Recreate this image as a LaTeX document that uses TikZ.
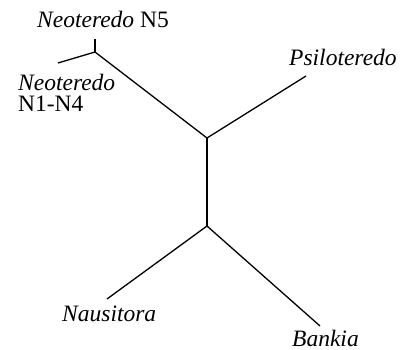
\documentclass[tikz,border=0pt]{standalone}
\usepackage{fontspec}
\setmainfont{Liberation Serif}
\begin{document}
\begin{tikzpicture}[x=1pt,y=-1pt,
  branch/.style={line width=1.3pt, line cap=butt},
  lbl/.style={font=\fontsize{23.5}{24}\selectfont, inner sep=0pt}]
\useasboundingbox (0,0) rectangle (401,350);
\coordinate (A) at (95,52);
\coordinate (B) at (207,138);
\coordinate (C) at (207,226);
\coordinate (n5) at (95,39);
\coordinate (n14) at (58,63);
\coordinate (ps) at (306,76);
\coordinate (na) at (107,299);
\coordinate (ba) at (320,326);
\draw[branch] (n5) -- (A);
\draw[branch] (n14) -- (A);
\draw[branch] (A) -- (B);
\draw[branch] (B) -- (ps);
\draw[branch] (B) -- (C);
\draw[branch] (C) -- (na);
\draw[branch] (C) -- (ba);
\node[lbl, anchor=base west] (tn5) at (37,28) {\textit{Neoteredo} N5};
\node[lbl, font=\fontsize{23.5}{21}\selectfont, align=left, anchor=north west] (tn14) at (18,74) {\textit{Neoteredo}\\N1-N4};
\node[lbl, anchor=base west] (tps) at (289,66) {\textit{Psiloteredo}};
\node[lbl, anchor=base west] (tna) at (62,321) {\textit{Nausitora}};
\node[lbl, anchor=base west, text depth=0pt] (tba) at (292,346) {\textit{Bankia}};
\end{tikzpicture}
\end{document}
